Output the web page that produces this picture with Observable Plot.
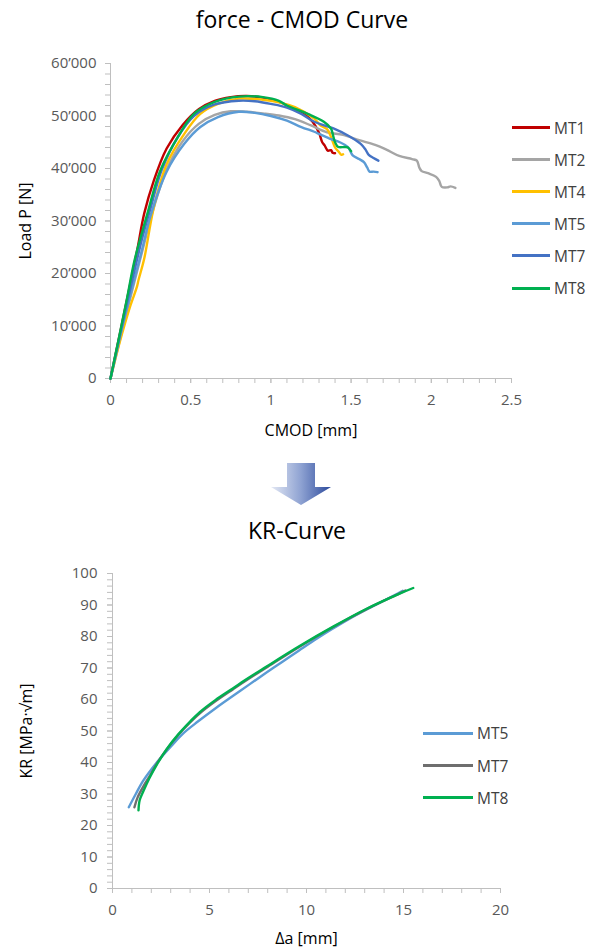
<!DOCTYPE html>
<html><head><meta charset="utf-8">
<script src="https://cdn.jsdelivr.net/npm/d3@7"></script>
<script src="https://cdn.jsdelivr.net/npm/@observablehq/plot@0.6"></script>
<style>
body{margin:0;background:#fff;font-family:"Open Sans",sans-serif;}
#page{position:relative;width:592px;height:949px;overflow:hidden;background:#fff}
.title{position:absolute;left:0;width:604px;text-align:center;font-size:23px;color:#000;line-height:1}
.legend{position:absolute;left:0;top:0;font-size:15.5px;color:#404040}
.item{position:absolute;display:flex;align-items:center;white-space:nowrap;height:20px}
.sw{display:inline-block;height:3px}
.chart{position:absolute;left:0}
</style></head>
<body><div id="page">
<div class="title" style="top:8px">force - CMOD Curve</div>
<div id="c1" class="chart" style="top:50px"></div>
<svg style="position:absolute;left:265px;top:458px" width="72" height="52">
<defs><linearGradient id="ag" x1="0" x2="1" y1="0" y2="0"><stop offset="0" stop-color="#e3e8f4"/><stop offset="0.5" stop-color="#8ea2d2"/><stop offset="1" stop-color="#2c4a9c"/></linearGradient></defs>
<path d="M22,5 H50 V29 H66 L36,47 L6,29 H22 Z" fill="url(#ag)"/>
</svg>
<div class="title" style="top:519px;width:594px">KR-Curve</div>
<div id="c2" class="chart" style="top:560px"></div>
<div id="leg" class="legend"></div>
</div>
<script>
// ---------- force - CMOD data: [CMOD mm, Load N] ----------
const seriesTop = ["MT1","MT2","MT4","MT5","MT7","MT8"];
const colorsTop = ["#C00000","#A5A5A5","#FFC000","#5B9BD5","#4472C4","#00B050"];
const mt1 = [[0,0],[0.05,7300],[0.1,14600],[0.15,22000],[0.17,25000],[0.21,31400],[0.27,37700],[0.35,43800],[0.45,48300],[0.55,51300],[0.65,52900],[0.75,53600],[0.85,53800],[0.95,53500],[1.05,52700],[1.12,51800],[1.2,50600],[1.26,48900],[1.3,46800],[1.32,45000],[1.335,44400],[1.355,43400],[1.375,43500],[1.385,43000],[1.4,42900]];
const mt2 = [[0,0],[0.1,12500],[0.2,24500],[0.26,31500],[0.35,39800],[0.45,45200],[0.55,48500],[0.65,50200],[0.75,50900],[0.85,50800],[0.95,50500],[1.05,50100],[1.15,49400],[1.25,48200],[1.35,46900],[1.45,46400],[1.55,45400],[1.65,44500],[1.72,43600],[1.8,42400],[1.88,41800],[1.91,41500],[1.925,40200],[1.94,39500],[1.98,39100],[2.03,38400],[2.05,37600],[2.065,36500],[2.1,36400],[2.12,36600],[2.15,36300]];
const mt4 = [[0,0],[0.06,7200],[0.12,13500],[0.165,17500],[0.175,18800],[0.21,22800],[0.27,32600],[0.35,40800],[0.46,46600],[0.56,50400],[0.67,52300],[0.8,53300],[0.95,53100],[1.05,52600],[1.15,51700],[1.27,49500],[1.31,48200],[1.35,47500],[1.375,46000],[1.4,44000],[1.42,43300],[1.44,42600],[1.45,42700]];
const mt5 = [[0,0],[0.06,8000],[0.12,15500],[0.19,23700],[0.25,31000],[0.35,39400],[0.46,44700],[0.56,47900],[0.67,49800],[0.8,50800],[0.9,50600],[1.0,50000],[1.1,49100],[1.19,47900],[1.27,47000],[1.3,46600],[1.375,45600],[1.43,45000],[1.48,44100],[1.51,42500],[1.55,41800],[1.58,41200],[1.6,40200],[1.615,39400],[1.64,39400],[1.665,39300]];
const mt7 = [[0,0],[0.1,14000],[0.2,27000],[0.25,32500],[0.32,39800],[0.42,46000],[0.52,50000],[0.65,52200],[0.8,52900],[0.9,52800],[1.0,52300],[1.1,51600],[1.19,50400],[1.27,48900],[1.4,47500],[1.48,46300],[1.56,44700],[1.59,43600],[1.61,42600],[1.64,42000],[1.67,41500]];
const mt8 = [[0,0],[0.1,14800],[0.15,22500],[0.23,31400],[0.31,39600],[0.42,46000],[0.52,50400],[0.65,52700],[0.8,53700],[0.95,53600],[1.05,52900],[1.1,52000],[1.23,50400],[1.33,48900],[1.375,47600],[1.39,46000],[1.4,45000],[1.42,44100],[1.46,44100],[1.48,44000],[1.5,43300]];
const xTicksTop = [0,0.5,1,1.5,2,2.5];
const yTicksTop = [0,10000,20000,30000,40000,50000,60000];

// ---------- KR-Curve data: [Δa mm, KR MPa·√m] ----------
const seriesKR = ["MT5","MT7","MT8"];
const colorsKR = ["#5B9BD5","#6E6E6E","#00B050"];
const kr5 = [[0.84,25.8],[1.2,30],[1.56,34],[2.0,37.8],[2.42,41],[3.0,45],[3.62,49.1],[4.4,53],[5.35,57.4],[6.2,61.1],[7.06,64.8],[7.9,68.4],[8.78,72.1],[9.6,75.5],[10.5,79.2],[11.3,82.3],[12.2,85.6],[13.1,88.6],[13.9,91.1],[14.5,93],[14.96,94.5]];
const kr7 = [[1.13,25.8],[1.3,29],[1.6,32.5],[1.9,35.5],[2.3,39.8],[2.8,44.2],[3.4,48.8],[4.0,52.7],[4.5,55.6],[5.3,59.4],[6.2,63.2],[7.0,66.5],[7.9,70],[9.6,76.6],[11.4,83.1],[13.1,88.7],[14.8,93.7],[15.1,94.6]];
const kr8 = [[1.34,24.8],[1.4,28],[1.6,31],[1.9,35],[2.3,39.5],[2.8,44.3],[3.4,49],[4.0,53],[4.5,56],[5.3,59.8],[6.2,63.5],[7.0,66.8],[7.9,70.3],[9.6,76.8],[11.4,83.2],[13.1,88.8],[14.8,93.6],[15.5,95.4]];
const xTicksKR = [0,5,10,15,20];
const yTicksKR = [0,10,20,30,40,50,60,70,80,90,100];

const topData = [mt1,mt2,mt4,mt5,mt7,mt8].flatMap((a,i)=>a.map(([x,y])=>({s:seriesTop[i],x,y})));
const krData = [kr5,kr7,kr8].flatMap((a,i)=>a.map(([x,y])=>({s:seriesKR[i],x,y})));

const axisGray = "#bfbfbf", labelGray = "#595959";
const fmtThousands = v => v === 0 ? "0" : (v/1000) + "\u2019000";

const chart1 = Plot.plot({
  width: 592, height: 400,
  marginLeft: 110, marginRight: 81, marginTop: 13, marginBottom: 72,
  style: {fontFamily: "Open Sans, sans-serif", fontSize: "15px", background: "transparent", overflow: "visible"},
  x: {domain: [0, 2.5]},
  y: {domain: [0, 60000]},
  color: {domain: seriesTop, range: colorsTop},
  marks: [
    Plot.axisY(d3.range(0, 60001, 2000), {tickSize: 5, stroke: axisGray, fill: "none", label: null}),
    Plot.axisY(yTicksTop, {tickSize: 5, tickPadding: 9, stroke: axisGray, fill: labelGray, tickFormat: fmtThousands, label: null}),
    Plot.axisX(d3.range(0, 2.5001, 0.1).map(v => +v.toFixed(1)), {tickSize: 5, stroke: axisGray, fill: "none", label: null}),
    Plot.axisX(xTicksTop, {tickSize: 5, tickPadding: 11, stroke: axisGray, fill: labelGray, tickFormat: d => String(d), label: null}),
    Plot.ruleX([0], {stroke: axisGray}),
    Plot.ruleY([0], {stroke: axisGray}),
    Plot.line(topData, {x: "x", y: "y", z: "s", stroke: "s", strokeWidth: 2.4, strokeLinejoin: "round", curve: "catmull-rom"}),
    Plot.text(["Load P [N]"], {frameAnchor: "left", textAnchor: "middle", lineAnchor: "middle", dx: -85, rotate: -90, fill: "#000", fontSize: 16}),
    Plot.text(["CMOD [mm]"], {frameAnchor: "bottom", textAnchor: "middle", lineAnchor: "middle", dy: 52, fill: "#000", fontSize: 16})
  ]
});
document.getElementById("c1").appendChild(chart1);

const chart2 = Plot.plot({
  width: 592, height: 389,
  marginLeft: 112, marginRight: 92, marginTop: 13, marginBottom: 61,
  style: {fontFamily: "Open Sans, sans-serif", fontSize: "15px", background: "transparent", overflow: "visible"},
  x: {domain: [0, 20]},
  y: {domain: [0, 100]},
  color: {domain: seriesKR, range: colorsKR},
  marks: [
    Plot.axisY(d3.range(0, 101, 2), {tickSize: 5, stroke: axisGray, fill: "none", label: null}),
    Plot.axisY(yTicksKR, {tickSize: 5, tickPadding: 10, stroke: axisGray, fill: labelGray, label: null}),
    Plot.axisX(d3.range(0, 21, 1), {tickSize: 5, stroke: axisGray, fill: "none", label: null}),
    Plot.axisX(xTicksKR, {tickSize: 5, tickPadding: 11, stroke: axisGray, fill: labelGray, label: null}),
    Plot.ruleX([0], {stroke: axisGray}),
    Plot.ruleY([0], {stroke: axisGray}),
    Plot.line(krData, {x: "x", y: "y", z: "s", stroke: "s", strokeWidth: 2.4, strokeLinejoin: "round", curve: "catmull-rom"}),
    Plot.text(["KR [MPa\u00b7\u221am]"], {frameAnchor: "left", textAnchor: "middle", lineAnchor: "middle", dx: -86, rotate: -90, fill: "#000", fontSize: 16}),
    Plot.text(["\u0394a [mm]"], {frameAnchor: "bottom", textAnchor: "middle", lineAnchor: "middle", dy: 50, fill: "#000", fontSize: 16})
  ]
});
document.getElementById("c2").appendChild(chart2);

// ---------- legends ----------
const leg = document.getElementById("leg");
function addLegend(names, colors, left, top0, step, lineW) {
  names.forEach((n, i) => {
    const it = document.createElement("div");
    it.className = "item";
    it.style.left = left + "px";
    it.style.top = (top0 + i * step - 10) + "px";
    const sw = document.createElement("span");
    sw.className = "sw";
    sw.style.width = lineW + "px";
    sw.style.background = colors[i];
    sw.style.marginRight = "4px";
    const t = document.createElement("span");
    t.textContent = n;
    it.appendChild(sw); it.appendChild(t);
    leg.appendChild(it);
  });
}
addLegend(seriesTop, colorsTop, 512, 127.5, 32.1, 38);
addLegend(seriesKR, colorsKR, 423, 733.3, 32.2, 50);
</script>
</body></html>
